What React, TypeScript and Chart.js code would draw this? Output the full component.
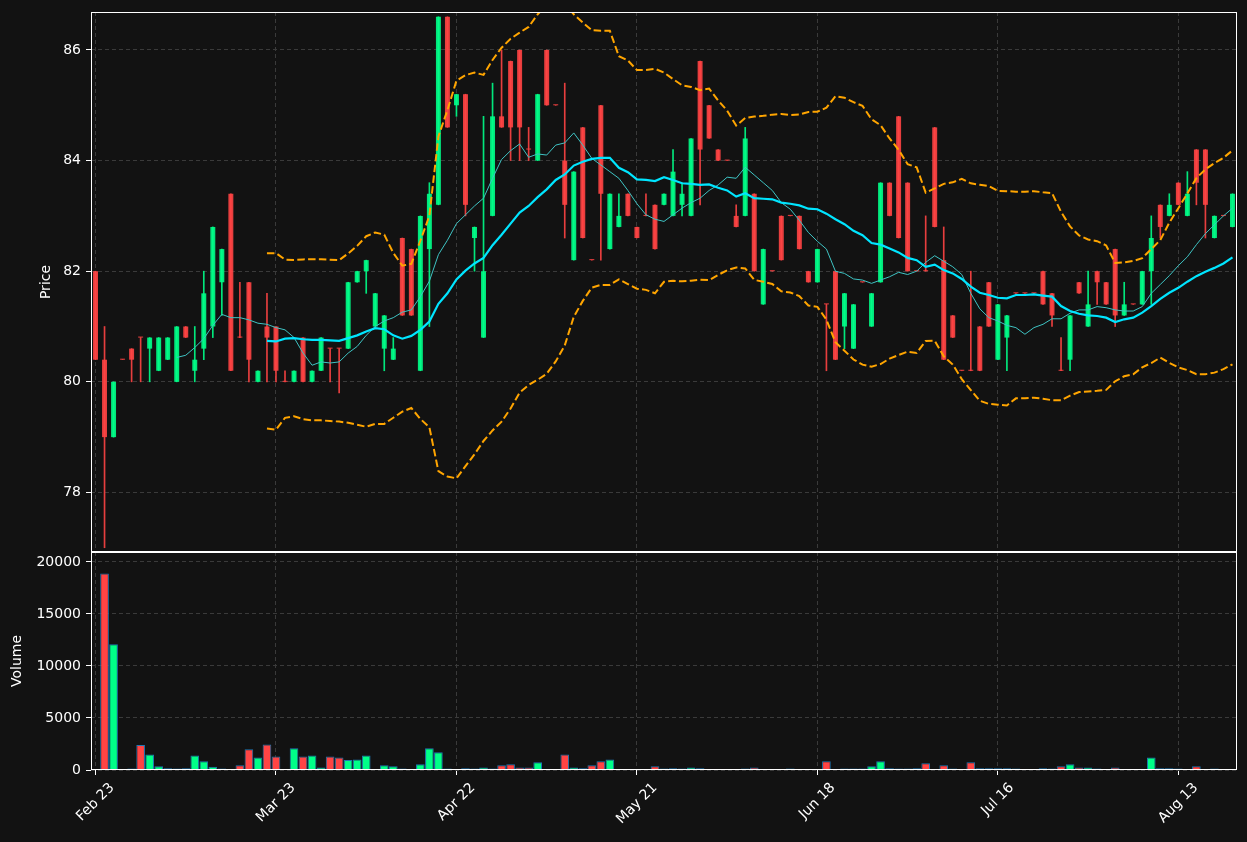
import React, { useEffect, useRef } from 'react';
import { Chart, registerables } from 'chart.js';

Chart.register(...registerables);

// ---------- data ----------
const opens = [
  82.0, 80.4, 79.0, 80.4, 80.6, 80.8, 80.6, 80.2, 80.4, 80.0,
  81.0, 80.2, 80.6, 81.0, 81.8, 83.4, 80.8, 81.8, 80.0, 81.0,
  81.0, 80.0, 80.0, 80.8, 80.0, 80.2, 80.6, 80.6, 80.6, 81.8,
  82.0, 81.0, 80.6, 80.4, 82.6, 82.4, 80.2, 82.4, 83.2, 86.6,
  85.0, 85.2, 82.6, 80.8, 83.0, 84.8, 85.8, 86.0, 84.2, 84.0,
  86.0, 85.0, 84.0, 82.2, 84.6, 82.2, 85.0, 82.4, 82.8, 83.4,
  82.8, 83.0, 83.2, 83.2, 83.0, 83.2, 83.0, 85.8, 85.0, 84.2,
  84.0, 83.0, 83.0, 83.4, 81.4, 82.0, 83.0, 83.0, 83.0, 82.0,
  81.8, 81.4, 82.0, 81.0, 80.6, 81.8, 81.0, 81.8, 83.6, 84.8,
  83.6, 82.0, 82.0, 84.6, 82.2, 81.2, 80.2, 80.2, 81.0, 81.8,
  80.4, 80.8, 81.6, 81.6, 81.6, 82.0, 81.6, 80.2, 80.4, 81.8,
  81.0, 82.0, 81.8, 82.4, 81.2, 81.4, 81.4, 82.0, 83.2, 83.0,
  83.6, 83.0, 84.2, 84.2, 82.6, 83.0, 82.8,
];
const highs = [
  82.0, 81.0, 80.0, 80.4, 80.6, 80.8, 80.8, 80.8, 80.8, 81.0,
  81.0, 81.0, 82.0, 82.8, 82.4, 83.4, 81.8, 81.8, 80.2, 81.6,
  81.0, 80.2, 80.2, 80.8, 80.2, 80.8, 80.6, 80.6, 81.8, 82.0,
  82.2, 81.6, 81.2, 80.8, 82.6, 82.4, 83.0, 83.6, 86.6, 86.6,
  85.2, 85.2, 82.8, 84.8, 85.4, 86.0, 85.8, 86.0, 84.6, 85.2,
  86.0, 85.0, 85.4, 83.8, 84.6, 82.2, 85.0, 83.4, 83.4, 83.4,
  82.8, 83.4, 83.2, 83.4, 84.2, 83.6, 84.4, 85.8, 85.0, 84.2,
  84.0, 83.2, 84.6, 83.4, 82.4, 82.0, 83.0, 83.0, 83.0, 82.0,
  82.4, 81.4, 82.0, 81.6, 81.4, 81.8, 81.6, 83.6, 83.6, 84.8,
  83.6, 82.0, 83.0, 84.6, 82.8, 81.2, 80.2, 82.0, 81.0, 81.8,
  81.4, 81.2, 81.6, 81.6, 81.6, 82.0, 81.6, 80.8, 81.2, 81.8,
  82.0, 82.0, 81.8, 82.4, 81.8, 81.4, 82.0, 83.0, 83.2, 83.4,
  83.6, 83.8, 84.2, 84.2, 83.0, 83.0, 83.4,
];
const lows = [
  80.4, 77.0, 79.0, 80.4, 80.0, 80.0, 80.0, 80.2, 80.4, 80.0,
  80.8, 80.0, 80.4, 80.8, 81.2, 80.2, 80.8, 80.0, 80.0, 80.0,
  80.0, 80.0, 80.0, 80.0, 80.0, 80.2, 80.0, 79.8, 80.6, 81.8,
  81.6, 81.0, 80.2, 80.4, 81.2, 81.2, 80.2, 81.0, 83.2, 84.6,
  84.8, 83.0, 82.0, 80.8, 83.0, 84.6, 84.0, 84.0, 84.0, 84.0,
  85.0, 85.0, 82.6, 82.2, 82.6, 82.2, 82.2, 82.4, 82.8, 83.0,
  82.6, 83.0, 82.4, 83.2, 83.0, 83.0, 83.0, 83.2, 84.4, 84.0,
  84.0, 82.8, 83.0, 82.0, 81.4, 82.0, 82.2, 83.0, 82.4, 81.8,
  81.8, 80.2, 80.4, 80.6, 80.6, 81.8, 81.0, 81.8, 83.0, 82.6,
  82.0, 82.0, 82.0, 82.8, 80.4, 80.8, 80.2, 80.2, 80.2, 81.0,
  80.4, 80.2, 81.6, 81.6, 81.6, 81.4, 81.0, 80.2, 80.2, 81.6,
  81.0, 81.4, 81.4, 81.0, 81.2, 81.4, 81.4, 81.4, 82.6, 83.0,
  83.2, 83.0, 83.2, 82.6, 82.6, 83.0, 82.8,
];
const closes = [
  80.4, 79.0, 80.0, 80.4, 80.4, 80.8, 80.8, 80.8, 80.8, 81.0,
  80.8, 80.4, 81.6, 82.8, 82.4, 80.2, 80.8, 80.4, 80.2, 80.8,
  80.2, 80.0, 80.2, 80.0, 80.2, 80.8, 80.6, 80.6, 81.8, 82.0,
  82.2, 81.6, 81.2, 80.6, 81.2, 81.2, 83.0, 83.4, 86.6, 84.6,
  85.2, 83.2, 82.8, 82.0, 84.8, 84.6, 84.6, 84.6, 84.2, 85.2,
  85.0, 85.0, 83.2, 83.8, 82.6, 82.2, 83.4, 83.4, 83.0, 83.0,
  82.6, 83.0, 82.4, 83.4, 83.8, 83.4, 84.4, 84.2, 84.4, 84.0,
  84.0, 82.8, 84.4, 82.0, 82.4, 82.0, 82.2, 83.0, 82.4, 81.8,
  82.4, 81.4, 80.4, 81.6, 81.4, 81.8, 81.6, 83.6, 83.0, 82.6,
  82.0, 82.0, 82.0, 82.8, 80.4, 80.8, 80.2, 80.2, 80.2, 81.0,
  81.4, 81.2, 81.6, 81.6, 81.6, 81.4, 81.2, 80.2, 81.2, 81.6,
  81.4, 81.8, 81.4, 81.2, 81.4, 81.4, 82.0, 82.6, 82.8, 83.2,
  83.2, 83.4, 83.6, 83.2, 83.0, 83.0, 83.4,
];
const volumes = [
  0, 18900, 12100, 0, 50, 2400, 1500, 350, 160, 40,
  160, 1400, 830, 320, 40, 0, 450, 2000, 1200, 2450,
  1300, 0, 2100, 1300, 1400, 250, 1300, 1200, 950, 1000,
  1400, 0, 450, 350, 40, 0, 550, 2100, 1700, 40,
  0, 160, 40, 250, 40, 450, 550, 250, 250, 750,
  0, 0, 1500, 250, 160, 450, 850, 1000, 0, 0,
  0, 0, 350, 40, 160, 40, 250, 160, 0, 0,
  0, 0, 40, 250, 0, 0, 0, 40, 0, 0,
  0, 850, 0, 40, 40, 40, 350, 850, 160, 40,
  40, 160, 650, 0, 450, 40, 0, 750, 160, 160,
  160, 160, 40, 0, 0, 160, 40, 350, 550, 250,
  250, 40, 0, 250, 0, 0, 0, 1200, 160, 160,
  40, 0, 350, 0, 40, 0, 0,
];
const tickLabels = ['Feb 23', 'Mar 23', 'Apr 22', 'May 21', 'Jun 18', 'Jul 16', 'Aug 13'];
const tickStep = 20;
const priceTicks = [78, 80, 82, 84, 86];
const volumeTicks = [0, 5000, 10000, 15000, 20000];
const shortWindow = 10;
const longWindow = 20;
const bandWidth = 2;

// ---------- style ----------
const BG = '#121212';
const TEXT = '#ffffff';
const GRID = '#3a3a3a';
const SPINE = '#ffffff';
const FONT_FAMILY = '"DejaVu Sans", sans-serif';
const FONT_SIZE = 14;
const UP = 'rgba(0,255,136,0.9)';
const DOWN = 'rgba(255,68,68,0.9)';
const VOL_UP = '#00ff88';
const VOL_DOWN = '#ff4444';
const VOL_EDGE = '#1f77b4';
const SMA_SHORT = '#3fc4c4';
const SMA_LONG = '#00e5ff';
const BAND = '#ffa500';

const PRICE_MIN = Math.min(...lows) * 0.999;
const PRICE_MAX = Math.max(...highs) * 1.001;
const VOLUME_MAX = 20960;

// ---------- derived indicator series ----------
function rollingMean(values: number[], n: number): (number | null)[] {
  return values.map((_, i) => {
    if (i < n - 1) return null;
    let s = 0;
    for (let k = i - n + 1; k <= i; k++) s += values[k];
    return s / n;
  });
}
function rollingStd(values: number[], n: number): (number | null)[] {
  const m = rollingMean(values, n);
  return values.map((_, i) => {
    const mu = m[i];
    if (mu === null) return null;
    let s = 0;
    for (let k = i - n + 1; k <= i; k++) s += (values[k] - mu) * (values[k] - mu);
    return Math.sqrt(s / n);
  });
}

const labels = closes.map((_, i) => String(i));
const isUp = closes.map((c, i) => c > opens[i]);
const smaShort = rollingMean(closes, shortWindow);
const smaLong = rollingMean(closes, longWindow);
const std = rollingStd(closes, longWindow);
const upperBand = smaLong.map((m, i) => (m === null ? null : m + bandWidth * (std[i] as number)));
const lowerBand = smaLong.map((m, i) => (m === null ? null : m - bandWidth * (std[i] as number)));

const font = { family: FONT_FAMILY, size: FONT_SIZE };

function framePlugin(title: string, titleX: number) {
  return {
    id: 'frame_' + title,
    afterDraw(chart: any) {
      const { ctx, chartArea: a } = chart;
      ctx.save();
      ctx.strokeStyle = SPINE;
      ctx.lineWidth = 1;
      ctx.strokeRect(
        Math.round(a.left) + 0.5,
        Math.round(a.top) + 0.5,
        Math.round(a.right - a.left) - 1,
        Math.round(a.bottom - a.top) - 1
      );
      ctx.fillStyle = TEXT;
      ctx.font = `${FONT_SIZE}px ${FONT_FAMILY}`;
      ctx.textAlign = 'center';
      ctx.textBaseline = 'middle';
      ctx.translate(titleX, (a.top + a.bottom) / 2);
      ctx.rotate(-Math.PI / 2);
      ctx.fillText(title, 0, 0);
      ctx.restore();
    },
  };
}

const xTickLabelPlugin = {
  id: 'xTickLabels',
  afterDraw(chart: any) {
    const { ctx, chartArea: a } = chart;
    const xs = chart.scales.x;
    ctx.save();
    ctx.fillStyle = TEXT;
    ctx.font = `${FONT_SIZE}px ${FONT_FAMILY}`;
    ctx.textAlign = 'center';
    ctx.textBaseline = 'middle';
    tickLabels.forEach((lab, k) => {
      const x = xs.getPixelForValue(k * tickStep);
      const w = ctx.measureText(lab).width;
      const h = FONT_SIZE * 1.16;
      const half = ((w + h) * Math.SQRT1_2) / 2;
      ctx.save();
      ctx.translate(x, a.bottom + 9.8 + half);
      ctx.rotate(-Math.PI / 4);
      ctx.fillText(lab, 0, 0);
      ctx.restore();
    });
    ctx.restore();
  },
};

function xScale(showTicks: boolean, height: number) {
  return {
    type: 'category' as const,
    offset: true,
    grid: {
      color: GRID,
      lineWidth: 1,
      offset: false,
      drawTicks: showTicks,
      tickColor: SPINE,
      tickLength: 5,
    },
    border: { display: false, dash: [4, 3] },
    ticks: { display: false, autoSkip: false },
    afterBuildTicks(s: any) {
      s.ticks = s.ticks.filter((t: any) => t.value % tickStep === 0);
    },
    afterFit(s: any) {
      s.height = height;
      s.paddingLeft = 0;
      s.paddingRight = 0;
    },
  };
}

function yScale(min: number, max: number, tickValues: number[]) {
  return {
    min,
    max,
    grid: { color: GRID, lineWidth: 1, tickColor: SPINE, tickLength: 5 },
    border: { display: false, dash: [4, 3] },
    ticks: {
      color: TEXT,
      font,
      padding: 5,
      callback: (v: any) => String(v),
    },
    afterBuildTicks(s: any) {
      s.ticks = tickValues.map((v) => ({ value: v }));
    },
    afterFit(s: any) {
      s.width = 91;
      s.paddingTop = 0;
      s.paddingBottom = 0;
    },
  };
}

export default function App() {
  const mainRef = useRef<HTMLCanvasElement>(null);
  const volRef = useRef<HTMLCanvasElement>(null);

  useEffect(() => {
    const candleColors = isUp.map((u) => (u ? UP : DOWN));
    const lineCommon = { type: 'line' as const, pointRadius: 0, tension: 0, fill: false, spanGaps: false };

    const main = new Chart(mainRef.current as HTMLCanvasElement, {
      type: 'bar',
      data: {
        labels,
        datasets: [
          {
            ...lineCommon,
            label: 'upper',
            data: upperBand,
            borderColor: BAND,
            borderWidth: 2,
            borderDash: [7.5, 3.3],
            order: 1,
          },
          {
            ...lineCommon,
            label: 'lower',
            data: lowerBand,
            borderColor: BAND,
            borderWidth: 2,
            borderDash: [7.5, 3.3],
            order: 1,
          },
          {
            ...lineCommon,
            label: 'sma20',
            data: smaLong,
            borderColor: SMA_LONG,
            borderWidth: 2.2,
            order: 1,
          },
          {
            ...lineCommon,
            label: 'sma10',
            data: smaShort,
            borderColor: SMA_SHORT,
            borderWidth: 1,
            order: 1,
          },
          {
            type: 'bar',
            label: 'body',
            data: opens.map((o, i) => [o, closes[i]]),
            backgroundColor: candleColors,
            barPercentage: 0.55,
            categoryPercentage: 1,
            grouped: false,
            minBarLength: 1,
            order: 3,
          } as any,
          {
            type: 'bar',
            label: 'wick',
            data: lows.map((l, i) => [l, highs[i]]),
            backgroundColor: candleColors,
            barThickness: 1,
            grouped: false,
            order: 4,
          } as any,
        ],
      },
      options: {
        responsive: false,
        maintainAspectRatio: false,
        animation: false,
        layout: { padding: { top: 12, right: 10, bottom: 8, left: 0 } },
        plugins: { legend: { display: false }, tooltip: { enabled: false } },
        scales: {
          x: xScale(false, 0) as any,
          y: yScale(PRICE_MIN, PRICE_MAX, priceTicks) as any,
        },
      },
      plugins: [framePlugin('Price', 46)],
    });

    const vol = new Chart(volRef.current as HTMLCanvasElement, {
      type: 'bar',
      data: {
        labels,
        datasets: [
          {
            label: 'Volume',
            data: volumes.map((v) => (v > 0 ? v : null)),
            backgroundColor: isUp.map((u) => (u ? VOL_UP : VOL_DOWN)),
            borderColor: VOL_EDGE,
            borderWidth: 1,
            barPercentage: 1,
            categoryPercentage: 0.96,
            minBarLength: 1.5,
          } as any,
        ],
      },
      options: {
        responsive: false,
        maintainAspectRatio: false,
        animation: false,
        layout: { padding: { top: 12, right: 10, bottom: 0, left: 0 } },
        plugins: { legend: { display: false }, tooltip: { enabled: false } },
        scales: {
          x: xScale(true, 72) as any,
          y: yScale(0, VOLUME_MAX, volumeTicks) as any,
        },
      },
      plugins: [framePlugin('Volume', 17), xTickLabelPlugin],
    });

    return () => {
      main.destroy();
      vol.destroy();
    };
  }, []);

  return (
    <div
      style={{
        position: 'fixed',
        left: 0,
        top: 0,
        width: 1247,
        height: 842,
        background: BG,
        overflow: 'hidden',
      }}
    >
      <canvas ref={mainRef} width={1247} height={560} style={{ position: 'absolute', left: 0, top: 0 }} />
      <canvas ref={volRef} width={1247} height={302} style={{ position: 'absolute', left: 0, top: 540 }} />
    </div>
  );
}
